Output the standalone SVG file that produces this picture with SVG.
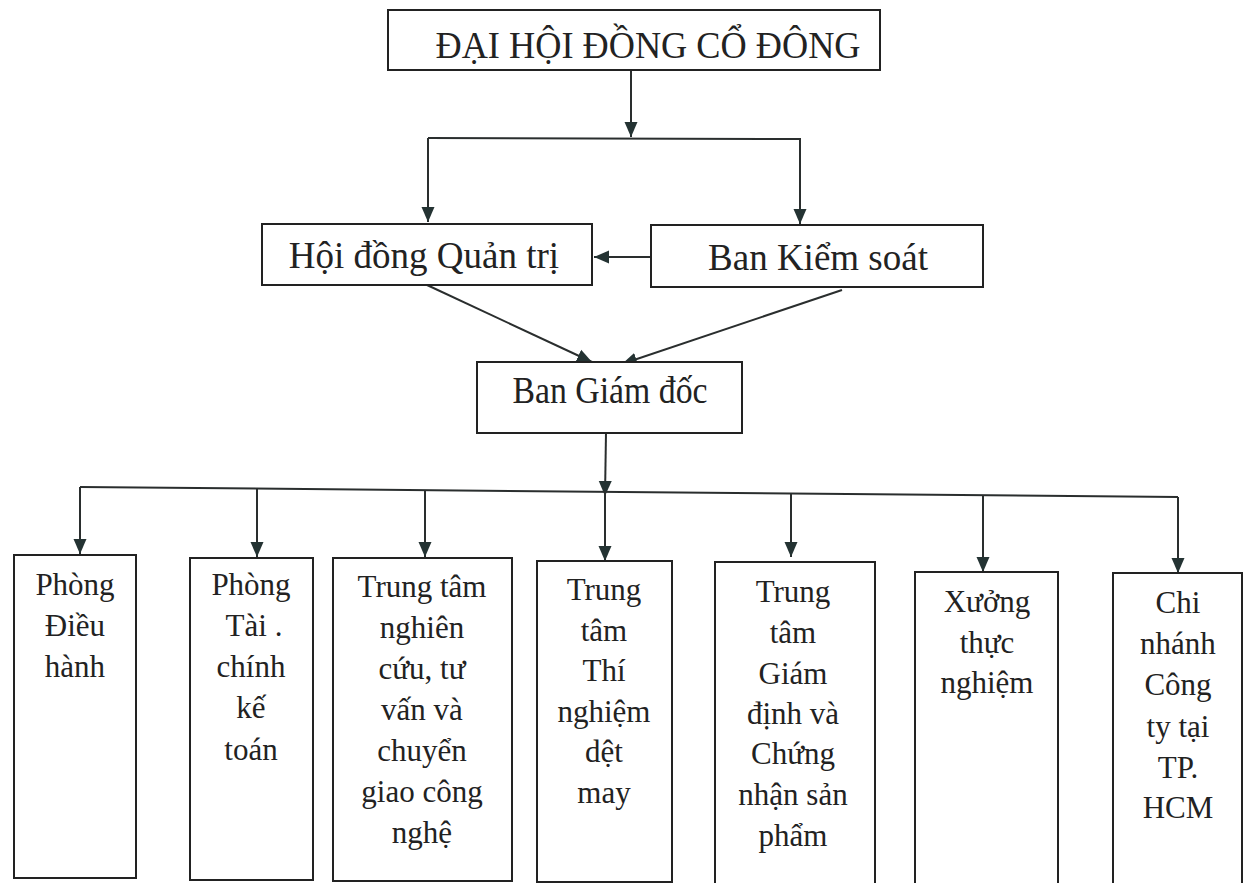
<svg xmlns="http://www.w3.org/2000/svg" width="1243" height="883" viewBox="0 0 1243 883">
<style>
.box{fill:#fff;stroke:#222;stroke-width:2}
.t{font-family:"Liberation Serif","Times New Roman",serif;fill:#222;text-anchor:middle}
.big{font-size:37px}
.sm{font-size:31px}
.ln{fill:none;stroke:#2a2e2e;stroke-width:2}
</style>
<defs>
<marker id="ah" markerUnits="userSpaceOnUse" markerWidth="16" markerHeight="16" viewBox="0 0 16 16" refX="15" refY="8" orient="auto">
<path d="M0,1.5 L15,8 L0,14.5 Z" fill="#243333"/>
</marker>
</defs>
<rect width="1243" height="883" fill="#fff"/>
<g id="connectors">
<line class="ln" x1="631" y1="70" x2="631" y2="137" marker-end="url(#ah)"/>
<polyline class="ln" points="428,138 800,139 800,224" marker-end="url(#ah)"/>
<line class="ln" x1="428" y1="138" x2="428" y2="222" marker-end="url(#ah)"/>
<line class="ln" x1="651" y1="257" x2="594" y2="257" marker-end="url(#ah)"/>
<line class="ln" x1="427" y1="285" x2="592" y2="362" marker-end="url(#ah)"/>
<line class="ln" x1="842" y1="290" x2="622" y2="364" marker-end="url(#ah)"/>
<line class="ln" x1="606" y1="433" x2="605" y2="496" marker-end="url(#ah)"/>
<line class="ln" x1="80" y1="487" x2="1178" y2="497"/>
<line class="ln" x1="80" y1="487" x2="80" y2="554" marker-end="url(#ah)"/>
<line class="ln" x1="257" y1="489" x2="257" y2="557" marker-end="url(#ah)"/>
<line class="ln" x1="425" y1="490" x2="425" y2="557" marker-end="url(#ah)"/>
<line class="ln" x1="605" y1="492" x2="605" y2="561" marker-end="url(#ah)"/>
<line class="ln" x1="791" y1="494" x2="791" y2="557" marker-end="url(#ah)"/>
<line class="ln" x1="983" y1="495" x2="983" y2="572" marker-end="url(#ah)"/>
<line class="ln" x1="1178" y1="497" x2="1178" y2="573" marker-end="url(#ah)"/>
</g>
<g id="n-dhdcd">
<rect class="box" x="388" y="10" width="492" height="60"/>
<text class="t big" x="648" y="58" textLength="425" lengthAdjust="spacingAndGlyphs">ĐẠI HỘI ĐỒNG CỔ ĐÔNG</text>
</g>
<g id="n-hdqt">
<rect class="box" x="262" y="224" width="330" height="61"/>
<text class="t big" x="424" y="268">Hội đồng Quản trị</text>
</g>
<g id="n-bks">
<rect class="box" x="651" y="225" width="332" height="62"/>
<text class="t big" x="818" y="270">Ban Kiểm soát</text>
</g>
<g id="n-bgd">
<rect class="box" x="477" y="362" width="265" height="71"/>
<text class="t big" x="610" y="403" textLength="195" lengthAdjust="spacingAndGlyphs">Ban Giám đốc</text>
</g>
<g id="n-pdh">
<rect class="box" x="14" y="555" width="122" height="323"/>
<text class="t sm" x="75" y="595">Phòng</text>
<text class="t sm" x="75" y="636">Điều</text>
<text class="t sm" x="75" y="677">hành</text>
</g>
<g id="n-ptckt">
<rect class="box" x="190" y="558" width="123" height="322"/>
<text class="t sm" x="251" y="595">Phòng</text>
<text class="t sm" x="254" y="636">Tài .</text>
<text class="t sm" x="251" y="677">chính</text>
<text class="t sm" x="251" y="718">kế</text>
<text class="t sm" x="251" y="760">toán</text>
</g>
<g id="n-ttnc">
<rect class="box" x="333" y="558" width="179" height="323"/>
<text class="t sm" x="422" y="597">Trung tâm</text>
<text class="t sm" x="422" y="638">nghiên</text>
<text class="t sm" x="422" y="679">cứu, tư</text>
<text class="t sm" x="422" y="720">vấn và</text>
<text class="t sm" x="422" y="761">chuyển</text>
<text class="t sm" x="422" y="802">giao công</text>
<text class="t sm" x="422" y="843">nghệ</text>
</g>
<g id="n-tttn">
<rect class="box" x="537" y="561" width="135" height="321"/>
<text class="t sm" x="604" y="600">Trung</text>
<text class="t sm" x="604" y="641">tâm</text>
<text class="t sm" x="604" y="681">Thí</text>
<text class="t sm" x="604" y="722">nghiệm</text>
<text class="t sm" x="604" y="762">dệt</text>
<text class="t sm" x="604" y="803">may</text>
</g>
<g id="n-ttgd">
<rect class="box" x="715" y="562" width="160" height="325"/>
<text class="t sm" x="793" y="602">Trung</text>
<text class="t sm" x="793" y="643">tâm</text>
<text class="t sm" x="793" y="684">Giám</text>
<text class="t sm" x="793" y="724">định và</text>
<text class="t sm" x="793" y="764">Chứng</text>
<text class="t sm" x="793" y="805">nhận sản</text>
<text class="t sm" x="793" y="846">phẩm</text>
</g>
<g id="n-xtn">
<rect class="box" x="915" y="572" width="143" height="318"/>
<text class="t sm" x="987" y="612">Xưởng</text>
<text class="t sm" x="987" y="653">thực</text>
<text class="t sm" x="987" y="693">nghiệm</text>
</g>
<g id="n-cn">
<rect class="box" x="1113" y="573" width="129" height="318"/>
<text class="t sm" x="1178" y="613">Chi</text>
<text class="t sm" x="1178" y="654">nhánh</text>
<text class="t sm" x="1178" y="695">Công</text>
<text class="t sm" x="1178" y="737">ty tại</text>
<text class="t sm" x="1178" y="778">TP.</text>
<text class="t sm" x="1178" y="818">HCM</text>
</g>
</svg>
